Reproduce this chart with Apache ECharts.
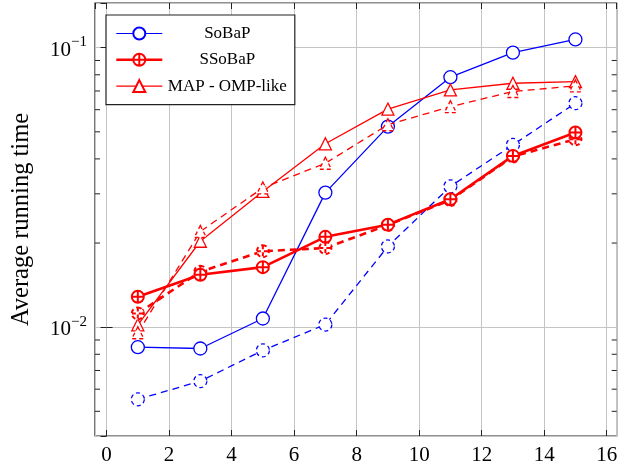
<!DOCTYPE html>
<html><head><meta charset="utf-8">
<script src="https://cdn.jsdelivr.net/npm/echarts@6/dist/echarts.min.js"></script>
<style>html,body{margin:0;padding:0;background:#fff}#c{width:628px;height:466px}</style>
</head><body><div id="c"></div>
<script>
const xValues = [1, 3, 5, 7, 9, 11, 13, 15];
const sobapSolid   = [0.00848, 0.00839, 0.01074, 0.0303, 0.0522, 0.0784, 0.096, 0.107];
const sobapDashed  = [0.00552, 0.00641, 0.00826, 0.01022, 0.01945, 0.0319, 0.0449, 0.0633];
const ssobapSolid  = [0.01285, 0.0154, 0.0164, 0.02105, 0.02327, 0.0287, 0.041, 0.0497];
const ssobapDashed = [0.0112, 0.0158, 0.0187, 0.0192, 0.0232, 0.0285, 0.0408, 0.047];
const mapSolid     = [0.0102, 0.0203, 0.0306, 0.0453, 0.0603, 0.0706, 0.0746, 0.0756];
const mapDashed    = [0.00955, 0.022, 0.0315, 0.0386, 0.053, 0.0615, 0.0697, 0.073];
const legendNames  = ['SoBaP', 'SSoBaP', 'MAP - OMP-like'];
const minorTicks   = [0.005, 0.006, 0.007, 0.008, 0.009, 0.02, 0.03, 0.04, 0.05, 0.06, 0.07, 0.08, 0.09];
const yTitle = 'Average running time';

const FONT = 'Liberation Serif';
const BLUE = '#0000ff', RED = '#ff0000';
const DASH = [7, 5];
const CPLUS = 'path://M0,-10A10,10,0,1,1,0,10A10,10,0,1,1,0,-10ZM-10,0L10,0M0,-10L0,10';

function pts(arr) { return xValues.map((x, i) => [x, arr[i]]); }
function mk(name, arr, color, width, dashed, symbol, size, bw, z) {
  return {
    name, type: 'line', data: pts(arr), z,
    symbol, symbolSize: size,
    lineStyle: { color, width, type: dashed ? DASH : 'solid' },
    itemStyle: { color: '#fff', borderColor: color, borderWidth: bw, borderType: dashed ? [4, 3] : 'solid' },
    emphasis: { disabled: true }
  };
}

const chart = echarts.init(document.getElementById('c'), null, { renderer: 'canvas' });
const XMIN = -0.37, XMAX = 16.32, YMIN = 0.00408, YMAX = 0.1445;
const axisTxt = { fontFamily: FONT, fontSize: 21, color: '#000' };

chart.setOption({
  animation: false,
  backgroundColor: '#fff',
  grid: { left: 95, right: 11.3, top: 3, bottom: 30, show: true, borderColor: '#222', borderWidth: 1.2, backgroundColor: 'transparent' },
  legend: {
    data: [
      { name: legendNames[0], lineStyle: { color: BLUE, width: 1.2 } },
      { name: legendNames[1], lineStyle: { color: RED, width: 2.6 } },
      { name: legendNames[2], lineStyle: { color: RED, width: 1.2 } }
    ],
    orient: 'vertical', left: 106, top: 15,
    padding: [10, 8, 10, 9], itemGap: 9.3, itemWidth: 46, itemHeight: 15,
    backgroundColor: '#fff', borderColor: '#222', borderWidth: 1.2,
    textStyle: { fontFamily: FONT, fontSize: 17, color: '#000', rich: { t: { width: 120, align: 'center', fontFamily: FONT, fontSize: 17 } } },
    formatter: n => '{t|' + n + '}'
  },
  xAxis: [{
    type: 'value', min: XMIN, max: XMAX, splitNumber: 8,
    axisLine: { show: false },
    axisTick: { inside: true, length: 6, lineStyle: { color: '#222' } },
    axisLabel: { ...axisTxt, margin: 9, showMinLabel: false, showMaxLabel: false,
      formatter: v => (Math.abs(v - Math.round(v)) < 1e-6 ? String(Math.round(v)) : '') },
    splitLine: { show: true, lineStyle: { color: '#c4c4c4', width: 1 } }
  }, {
    type: 'value', position: 'top', min: XMIN, max: XMAX, splitNumber: 8,
    axisLine: { show: false },
    axisTick: { inside: true, length: 6, lineStyle: { color: '#222' } },
    axisLabel: { show: false }, splitLine: { show: false }
  }],
  yAxis: [{
    type: 'log', logBase: 10, min: YMIN, max: YMAX,
    name: yTitle, nameLocation: 'middle', nameGap: 61,
    nameTextStyle: { fontFamily: FONT, fontSize: 24.5, color: '#000' },
    axisLine: { show: false },
    axisTick: { inside: true, length: 6, lineStyle: { color: '#222' } },
    axisLabel: {
      margin: 8, showMinLabel: false, showMaxLabel: false,
      formatter: v => {
        const e = Math.log10(v);
        if (Math.abs(e - Math.round(e)) > 1e-6) return '';
        return '{b|10}{s|\u2212' + Math.abs(Math.round(e)) + '}';
      },
      rich: {
        b: { fontFamily: FONT, fontSize: 21, color: '#000', lineHeight: 26, verticalAlign: 'bottom' },
        s: { fontFamily: FONT, fontSize: 15, color: '#000', lineHeight: 26, verticalAlign: 'top' }
      }
    },
    splitLine: { show: true, lineStyle: { color: '#c4c4c4', width: 1 } }
  }, {
    type: 'log', logBase: 10, min: YMIN, max: YMAX, position: 'right',
    axisLine: { show: false },
    axisTick: { inside: true, length: 6, lineStyle: { color: '#222' } },
    axisLabel: { show: false }, splitLine: { show: false }
  }],
  series: [
    {
      name: 'minor ticks', type: 'custom', silent: true, z: 1,
      data: minorTicks.map(v => [0, v]),
      encode: { x: 0, y: 1 },
      renderItem: (params, api) => {
        const y = api.coord([0, api.value(1)])[1];
        const cs = params.coordSys;
        return { type: 'group', children: [
          { type: 'line', shape: { x1: cs.x, y1: y, x2: cs.x + 5, y2: y }, style: { stroke: '#222', lineWidth: 1 } },
          { type: 'line', shape: { x1: cs.x + cs.width, y1: y, x2: cs.x + cs.width - 5, y2: y }, style: { stroke: '#222', lineWidth: 1 } }
        ] };
      }
    },
    mk('SoBaP', sobapSolid, BLUE, 1.3, false, 'circle', 13, 1.3, 3),
    mk('SoBaP (dashed)', sobapDashed, BLUE, 1.3, true, 'circle', 13, 1.3, 3),
    mk('MAP - OMP-like', mapSolid, RED, 1.3, false, 'triangle', 12, 1.3, 4),
    mk('MAP - OMP-like (dashed)', mapDashed, RED, 1.3, true, 'triangle', 12, 1.3, 4),
    mk('SSoBaP (dashed)', ssobapDashed, RED, 2.6, true, CPLUS, 12, 2, 5),
    mk('SSoBaP', ssobapSolid, RED, 2.6, false, CPLUS, 12, 2, 6)
  ]
});
</script></body></html>
